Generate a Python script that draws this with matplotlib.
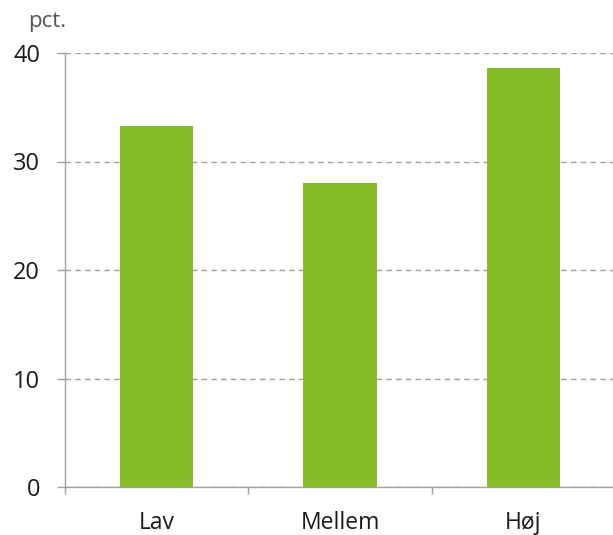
import matplotlib
matplotlib.use("Agg")
import matplotlib.pyplot as plt
import numpy as np

categories = ["Lav", "Mellem", "Høj"]
values = [33.3, 28.0, 38.6]
yticks = [0, 10, 20, 30, 40]

BAR_COLOR = "#86BC28"
AXIS_GRAY = "#A0A0A0"
TEXT = "#1A1A1A"

plt.rcParams["font.family"] = ["Open Sans", "DejaVu Sans"]

fig = plt.figure(figsize=(6.13, 5.35), dpi=100)
ax = fig.add_axes([65 / 613, 48 / 535, 550 / 613, 434 / 535])

x = np.arange(len(categories))
ax.bar(x, values, width=0.4, color=BAR_COLOR, zorder=3)

ax.set_xlim(-0.5, len(categories) - 0.5)
ax.set_ylim(0, 40)
ax.set_yticks(yticks)
ax.set_yticklabels([str(t) for t in yticks])

# category ticks sit on the boundaries, labels in the middle
ax.set_xticks(np.arange(len(categories) + 1) - 0.5)
ax.set_xticklabels([])
ax.set_xticks(x, minor=True)
ax.set_xticklabels(categories, minor=True)
ax.tick_params(axis="x", which="minor", length=0, pad=17, labelsize=16.5, colors=TEXT)
ax.tick_params(axis="x", which="major", length=5, width=1, color=AXIS_GRAY)
ax.tick_params(axis="y", length=6, width=1, color=AXIS_GRAY, pad=12,
               labelsize=17, labelcolor=TEXT)

ax.yaxis.grid(True, color=AXIS_GRAY, linestyle=(0, (4, 3)), linewidth=1)
ax.set_axisbelow(True)

for side in ("top", "right"):
    ax.spines[side].set_visible(False)
for side in ("left", "bottom"):
    ax.spines[side].set_color(AXIS_GRAY)
    ax.spines[side].set_linewidth(1)

fig.text(28 / 613, 1 - 22 / 535, "pct.", ha="left", va="center",
         fontsize=16, color="#555555")

fig.savefig("out.png", dpi=100)
